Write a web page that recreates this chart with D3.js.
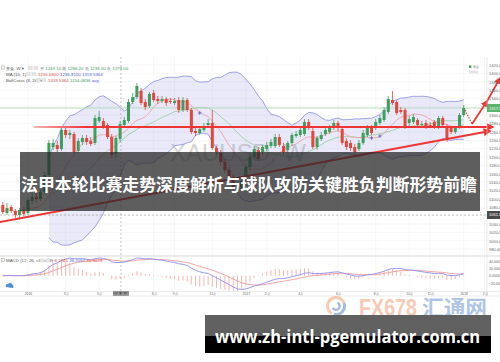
<!DOCTYPE html>
<html>
<head>
<meta charset="utf-8">
<script src="https://cdn.jsdelivr.net/npm/d3@7"></script>
<style>
  body { margin: 0; background: #fff; }
  svg { display: block; font-family: "Liberation Sans", "DejaVu Sans", sans-serif; }
</style>
</head>
<body>
<svg id="chart" width="500" height="362"></svg>
<script>
// weekly XAUUSD candles, week 0 = first visible bar
const open = [1085.4,1066.3,1080.6,1071.1,1061.5,1073.5,1066.3,1095.0,1104.5,1099.7,1116.5,1157.1,1224.0,1228.8,1219.2,1264.7,1252.7,1255.1,1214.5,1236.0,
  1245.5,1238.4,1233.6,1286.2,1286.2,1276.6,1247.9,1207.3,1243.1,1276.6,1286.2,1331.6,1343.5,1357.9,1331.6,1322.0,1353.1,1338.7,1334.0,1338.7,
  1334.0,1329.2,1336.4,1312.5,1336.4,1312.5,1262.3,1257.5,1264.7,1276.6,1281.4,1221.6,1209.7,1188.2,1169.1,1152.3,1128.4,1123.6,1142.8,1176.2,
  1200.1,1216.9,1212.1,1219.2,1226.4,1226.4,1247.9,1226.4,1216.9,1233.6,1250.3,1252.7,1255.1,1283.8,1262.3,1224.0,1243.1,1255.1,1259.9,1269.4,
  1281.4,1267.0,1238.4,1233.6,1224.0,1219.2,1233.6,1252.7,1269.4,1269.4,1281.4,1288.6,1307.7,1336.4,1331.6,1312.5,1312.5,1281.4,1283.8,1288.6,
  1276.6,1281.4,1276.6,1283.8,1271.8,1293.3,1274.2,1269.4,1259.9,1271.8,1300.5];
const high = [1092.6,1090.2,1085.4,1075.8,1078.2,1080.6,1102.1,1111.7,1114.1,1121.3,1164.3,1240.8,1243.1,1238.4,1271.8,1271.8,1264.7,1259.9,1245.5,1252.7,
  1252.7,1247.9,1300.5,1310.1,1293.3,1281.4,1255.1,1250.3,1286.2,1295.7,1338.7,1353.1,1377.0,1365.0,1338.7,1355.5,1360.3,1345.9,1345.9,1343.5,
  1341.1,1341.1,1343.5,1343.5,1341.1,1317.2,1271.8,1271.8,1281.4,1290.9,1312.5,1226.4,1216.9,1195.3,1176.2,1157.1,1133.2,1149.9,1181.0,1204.9,
  1226.4,1224.0,1228.8,1236.0,1243.1,1255.1,1255.1,1233.6,1238.4,1257.5,1262.3,1271.8,1290.9,1290.9,1269.4,1250.3,1259.9,1271.8,1276.6,1288.6,
  1286.2,1274.2,1245.5,1240.8,1231.2,1240.8,1264.7,1276.6,1276.6,1290.9,1300.5,1319.6,1345.9,1357.9,1336.4,1319.6,1317.2,1298.1,1302.9,1293.3,
  1286.2,1288.6,1283.8,1288.6,1298.1,1298.1,1279.0,1274.2,1274.2,1305.3,1324.4];
const low = [1063.9,1061.5,1066.3,1054.3,1049.6,1059.1,1061.5,1087.8,1090.2,1095.0,1111.7,1152.3,1216.9,1212.1,1214.5,1245.5,1243.1,1207.3,1209.7,1228.8,
  1228.8,1226.4,1228.8,1281.4,1267.0,1243.1,1197.7,1200.1,1236.0,1271.8,1281.4,1326.8,1338.7,1324.4,1312.5,1317.2,1331.6,1326.8,1329.2,1322.0,
  1326.8,1324.4,1305.3,1307.7,1307.7,1255.1,1250.3,1252.7,1259.9,1271.8,1216.9,1204.9,1181.0,1161.9,1147.5,1121.3,1114.1,1118.9,1138.0,1169.1,
  1193.0,1190.6,1204.9,1214.5,1221.6,1221.6,1224.0,1204.9,1212.1,1226.4,1245.5,1247.9,1250.3,1264.7,1219.2,1216.9,1238.4,1250.3,1255.1,1264.7,
  1262.3,1228.8,1216.9,1214.5,1204.9,1214.5,1228.8,1247.9,1252.7,1264.7,1276.6,1283.8,1302.9,1324.4,1300.5,1302.9,1267.0,1274.2,1279.0,1271.8,
  1271.8,1267.0,1269.4,1267.0,1267.0,1271.8,1236.0,1255.1,1255.1,1267.0,1295.7];
const close = [1068.7,1078.2,1071.1,1061.5,1073.5,1063.9,1097.4,1104.5,1099.7,1116.5,1157.1,1233.6,1233.6,1219.2,1264.7,1252.7,1257.5,1212.1,1238.4,1245.5,
  1236.0,1231.2,1293.3,1295.7,1271.8,1247.9,1204.9,1245.5,1279.0,1288.6,1331.6,1343.5,1369.8,1329.2,1319.6,1350.7,1336.4,1334.0,1338.7,1329.2,
  1331.6,1334.0,1312.5,1336.4,1312.5,1259.9,1257.5,1267.0,1274.2,1281.4,1221.6,1212.1,1188.2,1169.1,1152.3,1126.0,1123.6,1142.8,1176.2,1200.1,
  1219.2,1195.3,1224.0,1228.8,1236.0,1247.9,1228.8,1212.1,1233.6,1252.7,1255.1,1264.7,1283.8,1269.4,1224.0,1245.5,1252.7,1264.7,1269.4,1281.4,
  1269.4,1233.6,1224.0,1221.6,1212.1,1233.6,1257.5,1269.4,1257.5,1283.8,1293.3,1312.5,1338.7,1329.2,1305.3,1307.7,1271.8,1290.9,1295.7,1276.6,
  1279.0,1271.8,1274.2,1271.8,1293.3,1276.6,1240.8,1259.9,1269.4,1300.5,1317.2];

const priceTicks = d3.range(980, 1421, 20);
const timeTicks = [6, 15, 23, 36, 41, 50, 58, 63, 71, 80, 89, 97, 102, 110, 115];
const timeLabels = ["2016","3月","5月","8月","9月","11月","2017","2月","4月","6月","8月","10月","11月","2018","2月"];

// hand drawings on the chart, as [week, price]
const supportLevel = 1271.8;
const supportSpan = [7.4, 117];
const trendLine = [[-0.7, 1044.8], [116.3, 1262.3]];
const forecast = [[110.3, 1312.4], [112, 1279.0], [115.6, 1334.0], [118.7, 1389.0]];
const crossSignals = [[47, 1305.3], [88, 1245.5], [90, 1250.3]];
const cursorWeek = 28.2, cursorPrice = 1061.5, cursorDate = "2016-06-06";

const title = "法甲本轮比赛走势深度解析与球队攻防关键胜负判断形势前瞻";
const site = "www.zh-intl-pgemulator.com.cn";

const upColor = "#3f9e5e", downColor = "#e2463c";
const svg = d3.select("#chart");
const weeks = d3.range(close.length);

const x = d3.scaleLinear().domain([0, 110]).range([2.8, 463.7]);
const y = d3.scaleLinear().domain([980, 1420]).range([249.1, 65]);

const defs = svg.append("defs");
defs.append("clipPath").attr("id", "mainClip")
  .append("rect").attr("x", 0).attr("y", 57).attr("width", 487).attr("height", 199);
defs.append("clipPath").attr("id", "macdClip")
  .append("rect").attr("x", 0).attr("y", 257).attr("width", 487).attr("height", 34);
defs.append("marker").attr("id", "arrow").attr("viewBox", "0 0 10 10")
  .attr("refX", 8).attr("refY", 5).attr("markerWidth", 4).attr("markerHeight", 4)
  .attr("orient", "auto").attr("markerUnits", "strokeWidth")
  .append("path").attr("d", "M0,0L10,5L0,10z").attr("fill", "#f03535");
const grad = defs.append("linearGradient").attr("id", "supportGrad")
  .attr("gradientUnits", "userSpaceOnUse").attr("x1", x(supportSpan[0])).attr("x2", x(20));
grad.append("stop").attr("offset", 0).attr("stop-color", "#f6b3b3");
grad.append("stop").attr("offset", 1).attr("stop-color", "#ee3434");

// ---------- indicators
function movingAvg(values, n, i) {
  return d3.mean(values.slice(Math.max(0, i - n + 1), i + 1));
}
function ema(values, n) {
  const k = 2 / (n + 1);
  let prev = values[0];
  return values.map((v, i) => (prev = i === 0 ? v : v * k + prev * (1 - k)));
}
const ma10 = weeks.map(i => movingAvg(close, 10, i));
const boll = weeks.filter(i => i >= 11).map(i => {
  const w = close.slice(Math.max(0, i - 19), i + 1);
  const m = d3.mean(w);
  const sd = Math.sqrt(d3.mean(w, v => (v - m) ** 2));
  return { i, mid: m, up: m + 2 * sd, dn: m - 2 * sd };
});
const ema12 = ema(close, 12), ema26 = ema(close, 26);
const dif = weeks.map(i => ema12[i] - ema26[i]);
const dea = ema(dif, 9);
const hist = weeks.map(i => 2 * (dif[i] - dea[i]));

// ---------- grid
const grid = svg.append("g").attr("stroke", "#f1f1f1").attr("stroke-width", 0.6);
grid.selectAll(".h").data(priceTicks).join("line")
  .attr("x1", 0).attr("x2", 487).attr("y1", d => y(d)).attr("y2", d => y(d));
grid.selectAll(".v").data(timeTicks).join("line")
  .attr("x1", d => x(d)).attr("x2", d => x(d)).attr("y1", 57).attr("y2", 292);

svg.append("text").attr("x", 170).attr("y", 161).attr("font-size", 24)
  .attr("fill", "#d4d4d4").text("XAUUSD, W");

const main = svg.append("g").attr("clip-path", "url(#mainClip)");

// bollinger band
main.append("path").datum(boll)
  .attr("d", d3.area().x(d => x(d.i)).y0(d => y(d.dn)).y1(d => y(d.up)))
  .attr("fill", "rgba(120,120,220,0.16)");
["up", "dn"].forEach(k => {
  main.append("path").datum(boll)
    .attr("d", d3.line().x(d => x(d.i)).y(d => y(d[k])))
    .attr("fill", "none").attr("stroke", "#9696e6").attr("stroke-width", 0.9);
});
main.append("path").datum(boll)
  .attr("d", d3.line().x(d => x(d.i)).y(d => y(d.mid)))
  .attr("fill", "none").attr("stroke", "#8fcf9a").attr("stroke-width", 0.8);
main.append("path").datum(weeks)
  .attr("d", d3.line().x(i => x(i)).y(i => y(ma10[i])))
  .attr("fill", "none").attr("stroke", "#ee9a9a").attr("stroke-width", 0.8);

// last price line
main.append("line").attr("x1", 0).attr("x2", 487)
  .attr("y1", y(close[110])).attr("y2", y(close[110]))
  .attr("stroke", "#a9d9b1").attr("stroke-width", 0.8);

// candles
const candle = main.append("g").selectAll("g").data(weeks).join("g");
candle.append("line")
  .attr("x1", i => x(i)).attr("x2", i => x(i))
  .attr("y1", i => y(high[i])).attr("y2", i => y(low[i]))
  .attr("stroke", i => close[i] >= open[i] ? upColor : downColor).attr("stroke-width", 0.8);
candle.append("rect")
  .attr("x", i => x(i) - 1.5).attr("width", 3)
  .attr("y", i => y(Math.max(open[i], close[i])))
  .attr("height", i => Math.max(0.8, Math.abs(y(open[i]) - y(close[i]))))
  .attr("fill", i => close[i] >= open[i] ? upColor : downColor);

// boll-cross signals
const cross = main.append("g").attr("stroke", "#4b55c8").attr("stroke-width", 0.8);
crossSignals.forEach(([w, p]) => {
  cross.append("line").attr("x1", x(w) - 1.8).attr("x2", x(w) + 1.8).attr("y1", y(p)).attr("y2", y(p));
  cross.append("line").attr("x1", x(w)).attr("x2", x(w)).attr("y1", y(p) - 1.8).attr("y2", y(p) + 1.8);
});

// crosshair
const cursor = svg.append("g").attr("stroke", "#9a9a9a").attr("stroke-width", 0.6).attr("stroke-dasharray", "2,2");
cursor.append("line").attr("x1", x(cursorWeek)).attr("x2", x(cursorWeek)).attr("y1", 57).attr("y2", 292);
cursor.append("line").attr("x1", 0).attr("x2", 487).attr("y1", y(cursorPrice)).attr("y2", y(cursorPrice));

// red drawings
const drawn = svg.append("g").attr("fill", "none");
drawn.append("line")
  .attr("x1", x(supportSpan[0])).attr("x2", x(supportSpan[1]))
  .attr("y1", y(supportLevel)).attr("y2", y(supportLevel))
  .attr("stroke", "url(#supportGrad)").attr("stroke-width", 2).attr("marker-end", "url(#arrow)");
drawn.append("line")
  .attr("x1", x(trendLine[0][0])).attr("y1", y(trendLine[0][1]))
  .attr("x2", x(trendLine[1][0])).attr("y2", y(trendLine[1][1]))
  .attr("stroke", "#f03535").attr("stroke-width", 2).attr("marker-end", "url(#arrow)");
drawn.append("line")
  .attr("x1", x(forecast[0][0])).attr("y1", y(forecast[0][1]))
  .attr("x2", x(forecast[1][0])).attr("y2", y(forecast[1][1]))
  .attr("stroke", "#f03535").attr("stroke-width", 1.1).attr("stroke-dasharray", "1.5,1.2");
drawn.append("line")
  .attr("x1", x(forecast[1][0])).attr("y1", y(forecast[1][1]))
  .attr("x2", x(forecast[2][0])).attr("y2", y(forecast[2][1]))
  .attr("stroke", "#f03535").attr("stroke-width", 1.8).attr("marker-end", "url(#arrow)");
drawn.append("line")
  .attr("x1", x(forecast[2][0])).attr("y1", y(forecast[2][1]))
  .attr("x2", x(forecast[3][0])).attr("y2", y(forecast[3][1]))
  .attr("stroke", "#f03535").attr("stroke-width", 1.8).attr("marker-end", "url(#arrow)");

// ---------- macd pane
const yM = d3.scaleLinear().domain(d3.extent(dif.concat(dea))).range([289.5, 258]);
const macd = svg.append("g").attr("clip-path", "url(#macdClip)");
macd.selectAll("line").data(weeks).join("line")
  .attr("x1", i => x(i)).attr("x2", i => x(i))
  .attr("y1", yM(0)).attr("y2", i => yM(hist[i]))
  .attr("stroke", "#f3a3a3").attr("stroke-width", 0.8);
macd.append("path").datum(weeks)
  .attr("d", d3.line().x(i => x(i)).y(i => yM(dea[i])))
  .attr("fill", "none").attr("stroke", "#f39a9a").attr("stroke-width", 0.9);
macd.append("path").datum(weeks)
  .attr("d", d3.line().x(i => x(i)).y(i => yM(dif[i])))
  .attr("fill", "none").attr("stroke", "#8f8ff0").attr("stroke-width", 0.9);

// pane borders
svg.append("line").attr("x1", 0).attr("x2", 500).attr("y1", 256).attr("y2", 256).attr("stroke", "#cfcfcf").attr("stroke-width", 0.8);
svg.append("line").attr("x1", 0).attr("x2", 500).attr("y1", 291.5).attr("y2", 291.5).attr("stroke", "#dddddd").attr("stroke-width", 0.6);
svg.append("line").attr("x1", 0).attr("x2", 500).attr("y1", 296).attr("y2", 296).attr("stroke", "#dddddd").attr("stroke-width", 0.6);
svg.append("line").attr("x1", 487).attr("x2", 487).attr("y1", 57).attr("y2", 296).attr("stroke", "#dddddd").attr("stroke-width", 0.6);

// ---------- axes
const badgeYs = [y(close[110]), y(cursorPrice)];
function styleAxis(g, size) {
  g.select(".domain").remove();
  g.selectAll("text").attr("font-size", size).attr("fill", "#666")
    .attr("font-family", "Liberation Sans, sans-serif");
}
svg.append("g").attr("transform", "translate(487,0)")
  .call(d3.axisRight(y).tickValues(priceTicks.filter(p => badgeYs.every(b => Math.abs(y(p) - b) > 5)))
    .tickSize(0).tickPadding(2).tickFormat(d3.format(".3f")))
  .call(g => styleAxis(g, 4));
svg.append("g").attr("transform", "translate(487,0)")
  .call(d3.axisRight(yM).ticks(4).tickSize(0).tickPadding(2).tickFormat(d3.format(".4f")))
  .call(g => styleAxis(g, 3.6));
svg.append("g").attr("transform", "translate(0,291.5)")
  .call(d3.axisBottom(x).tickValues(timeTicks).tickSize(0).tickPadding(0.8)
    .tickFormat((d, i) => timeLabels[i]))
  .call(g => styleAxis(g, 3.4));

// price badges
function badge(yPos, fill, label) {
  svg.append("rect").attr("x", 487).attr("y", yPos - 4).attr("width", 13).attr("height", 8).attr("fill", fill);
  svg.append("text").attr("x", 489).attr("y", yPos + 1.5).attr("font-size", 4).attr("fill", "#fff").text(label);
}
badge(y(close[110]), "#5cb36a", d3.format(".2f")(close[110]));
badge(y(cursorPrice), "#4a4a4a", d3.format(".3f")(cursorPrice));
svg.append("rect").attr("x", x(cursorWeek) - 8).attr("y", 291.5).attr("width", 16).attr("height", 4).attr("fill", "#4a4a4a");
svg.append("text").attr("x", x(cursorWeek)).attr("y", 294.8).attr("text-anchor", "middle")
  .attr("font-size", 3.2).attr("fill", "#fff").text(cursorDate);

// ---------- legends
const c = cursorWeek | 0;
const fmt = d3.format(".2f"), fmt4 = d3.format(".4f");
const legend = svg.append("g").attr("font-size", 4.4);
function legendRow(yPos, label, boxX, parts) {
  legend.append("text").attr("x", 6).attr("y", yPos).attr("fill", "#555").text(label);
  legend.append("rect").attr("x", boxX).attr("y", yPos - 3.6).attr("width", 4.5).attr("height", 4).attr("fill", "#e4e4e4");
  legend.append("rect").attr("x", boxX + 5.5).attr("y", yPos - 3.6).attr("width", 4.5).attr("height", 4).attr("fill", "#e4e4e4");
  const t = legend.append("text").attr("x", boxX + 12).attr("y", yPos);
  parts.forEach(([s, col]) => t.append("tspan").attr("fill", col).text(s + " "));
}
legend.append("rect").attr("x", 1.5).attr("y", 66).attr("width", 3).attr("height", 3)
  .attr("fill", "none").attr("stroke", "#999").attr("stroke-width", 0.5);
legendRow(69.5, "黄金, W ▾", 28, [
  ["开", "#888"], [fmt(open[c]), upColor], ["高", "#888"], [fmt(high[c]), upColor],
  ["低", "#888"], [fmt(low[c]), upColor], ["收", "#888"], [fmt(close[c]), upColor]]);
legendRow(75.5, "MA (10, 1) ▾", 26, [
  [fmt4(ma10[c]), "#e25050"], [fmt4(boll[c - 11].mid), "#5060d0"], [fmt4(boll[c - 11].up), "#5060d0"]]);
legendRow(81.5, "BollCross (8, 26) ▾", 36, [
  [fmt4(boll[c - 11].up), "#e25050"], [fmt4(boll[c - 11].dn), upColor], ["avg", "#5060d0"]]);
legend.append("rect").attr("x", 1.5).attr("y", 258.5).attr("width", 3).attr("height", 3)
  .attr("fill", "none").attr("stroke", "#999").attr("stroke-width", 0.5);
legendRow(262, "MACD (12, 26, close, 9)", 40, [
  [fmt4(hist[c]), "#e25050"], [fmt4(dif[c]), "#5060d0"], [fmt4(dea[c]), "#e25050"]]);
legend.append("rect").attr("x", 469).attr("y", 65.5).attr("width", 2.4).attr("height", 2.4).attr("fill", upColor);
legend.append("text").attr("x", 472.5).attr("y", 68).attr("font-size", 3.4).attr("fill", "#777").text("黄金");
legend.append("rect").attr("x", 469).attr("y", 70.5).attr("width", 9).attr("height", 3).attr("fill", "#e6e6e6");
legend.append("path").attr("d", "M6,287 a2,2 0 0 1 2,-3 a2.5,2.5 0 0 1 4.5,1 a1.6,1.6 0 0 1 0,3 z")
  .attr("fill", "#4f8fd8");

// ---------- title banner
svg.append("rect").attr("x", 20).attr("y", 152).attr("width", 460).attr("height", 59)
  .attr("fill", "rgba(40,40,40,0.75)");
svg.append("text").attr("x", 21).attr("y", 191)
  .attr("font-family", "Noto Sans CJK SC").attr("font-weight", "bold").attr("font-size", 17)
  .attr("textLength", 456).attr("lengthAdjust", "spacingAndGlyphs")
  .attr("fill", "#fff").text(title);

// ---------- fx678 logo
const logo = svg.append("g").attr("opacity", 0.55);
logo.append("path").attr("d", d3.arc()({ innerRadius: 7, outerRadius: 10, startAngle: -2.6, endAngle: 1.2 }))
  .attr("transform", "translate(336,306)").attr("fill", "#f3a36b");
logo.append("path").attr("d", d3.arc()({ innerRadius: 7, outerRadius: 10, startAngle: 1.2, endAngle: 3.4 }))
  .attr("transform", "translate(336,306)").attr("fill", "#5b86c8");
logo.append("path").attr("d", d3.arc()({ innerRadius: 2.5, outerRadius: 5, startAngle: 0.4, endAngle: 4.2 }))
  .attr("transform", "translate(336,306)").attr("fill", "#5b86c8");
logo.append("text").attr("x", 359).attr("y", 315.5).attr("font-size", 24).attr("font-weight", "bold")
  .attr("textLength", 58).attr("lengthAdjust", "spacingAndGlyphs").attr("fill", "#f4a07a").text("FX678");
logo.append("text").attr("x", 422).attr("y", 314.5).attr("font-family", "Noto Sans CJK SC")
  .attr("font-size", 21).attr("font-weight", "bold")
  .attr("textLength", 65).attr("lengthAdjust", "spacingAndGlyphs").attr("fill", "#6f97d4").text("汇通网");

// ---------- site box
svg.append("rect").attr("x", 205).attr("y", 315).attr("width", 286).attr("height", 21).attr("fill", "#606060");
svg.append("rect").attr("x", 205).attr("y", 336).attr("width", 286).attr("height", 17).attr("fill", "#000");
svg.append("text").attr("x", 215).attr("y", 343)
  .attr("font-family", "Open Sans").attr("font-weight", "bold").attr("font-size", 18)
  .attr("textLength", 265).attr("lengthAdjust", "spacingAndGlyphs")
  .attr("fill", "#fff").text(site);
</script>
</body>
</html>
